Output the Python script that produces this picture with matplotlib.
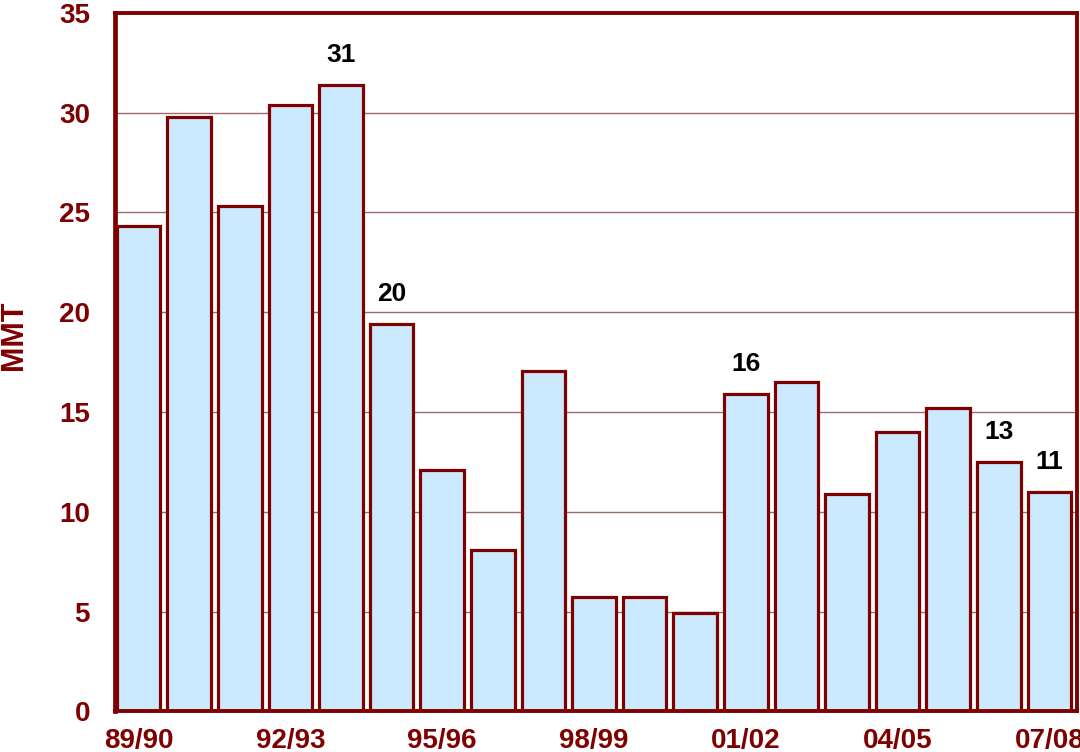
import matplotlib
matplotlib.use("Agg")
import matplotlib.pyplot as plt
import numpy as np

seasons = ["89/90", "90/91", "91/92", "92/93", "93/94", "94/95", "95/96", "96/97",
           "97/98", "98/99", "99/00", "00/01", "01/02", "02/03", "03/04", "04/05",
           "05/06", "06/07", "07/08"]
values = [24.3, 29.8, 25.3, 30.4, 31.4, 19.4, 12.1, 8.1, 17.05, 5.75, 5.75, 4.95,
          15.9, 16.5, 10.9, 14.0, 15.2, 12.5, 11.0]
bar_labels = {4: "31", 5: "20", 12: "16", 17: "13", 18: "11"}
tick_every = 3
yticks = [0, 5, 10, 15, 20, 25, 30, 35]

dark_red = "#7f0000"
fill = "#cceaff"

plt.rcParams['font.family'] = ['Liberation Sans', 'DejaVu Sans']

fig = plt.figure(figsize=(10.8, 7.52), dpi=100)
ax = fig.add_axes([0.1065, 0.054, 0.8905, 0.929])

x = np.arange(len(values))
ax.bar(x, values, width=0.86, color=fill, edgecolor=dark_red, linewidth=2.3, zorder=3)

for i, lab in bar_labels.items():
    ax.annotate(lab, (x[i], values[i]), xytext=(0, 13), textcoords="offset points",
                ha="center", va="bottom", fontsize=19, fontweight="bold", color="black")

ax.set_xlim(-0.465, len(values) - 0.46)
ax.set_ylim(0, 35)
ax.set_yticks(yticks)
ax.set_yticklabels([str(v) for v in yticks])
ax.set_xticks(x[::tick_every])
ax.set_xticklabels([seasons[i] for i in x[::tick_every]])
ax.tick_params(axis="both", length=0, labelsize=20, labelcolor=dark_red)
ax.tick_params(axis="y", pad=18)
ax.tick_params(axis="x", pad=12)
for lab in ax.get_xticklabels() + ax.get_yticklabels():
    lab.set_fontweight("bold")

ax.yaxis.grid(True, color="#a06a6a", linewidth=1.0, zorder=0)
ax.set_axisbelow(True)

for side, sp in ax.spines.items():
    sp.set_color(dark_red)
    sp.set_linewidth(2.8)
    sp.set_zorder(4)
ax.spines["left"].set_linewidth(3.4)

ax.set_ylabel("MMT", fontsize=22, fontweight="bold", color=dark_red)
ax.yaxis.set_label_coords(-0.0895, 0.539)

fig.savefig("out.png", dpi=100)
